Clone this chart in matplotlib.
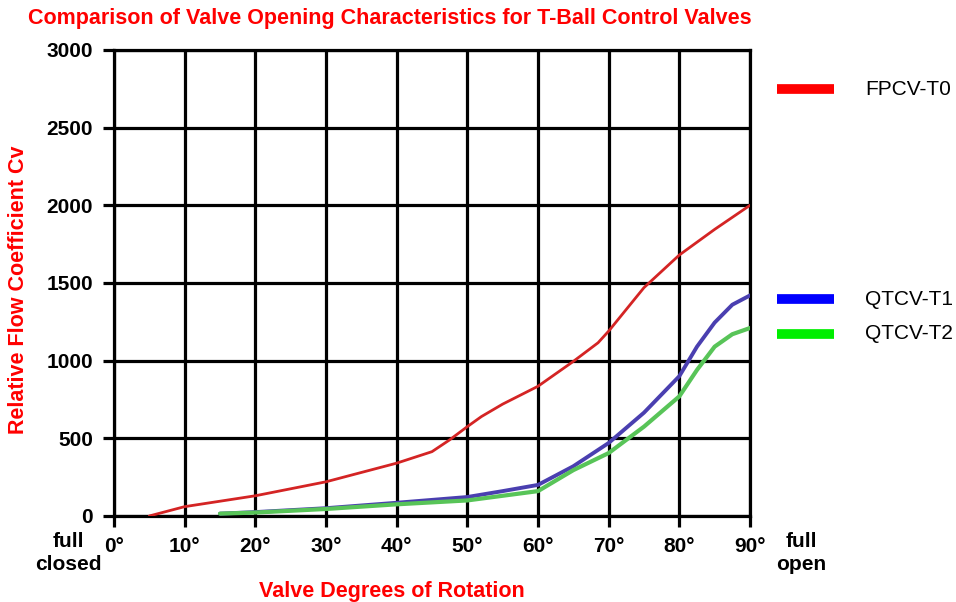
import matplotlib.pyplot as plt
from matplotlib.lines import Line2D
from matplotlib.transforms import ScaledTranslation

plt.rcParams["font.family"] = ["Liberation Sans", "DejaVu Sans"]

# values
deg_t0 = [5, 10, 20, 30, 40, 45, 47.5, 50, 52, 55, 60, 65, 68.5, 70, 72.5, 75, 80, 85, 90]
cv_t0 = [0, 60, 130, 220, 340, 414, 490, 575, 640, 720, 835, 995, 1115, 1190, 1330, 1470, 1680, 1845, 2000]

deg_t1 = [15, 20, 30, 40, 50, 55, 60, 65, 70, 75, 80, 82.5, 85, 87.5, 90]
cv_t1 = [15, 25, 50, 85, 122, 160, 200, 320, 470, 665, 900, 1090, 1245, 1360, 1420]

deg_t2 = [15, 20, 30, 40, 50, 55, 60, 65, 70, 75, 80, 82.5, 85, 87.5, 90]
cv_t2 = [15, 22, 45, 75, 100, 130, 160, 295, 405, 575, 770, 940, 1090, 1170, 1210]

x_ticks = [0, 10, 20, 30, 40, 50, 60, 70, 80, 90]
y_ticks = [0, 500, 1000, 1500, 2000, 2500, 3000]

series = [
    ("FPCV-T0", deg_t0, cv_t0, "#d42424", "#ff0000", 2.0, 0.852),
    ("QTCV-T1", deg_t1, cv_t1, "#4a3fb0", "#0000ff", 2.8, 0.503),
    ("QTCV-T2", deg_t2, cv_t2, "#58c458", "#00ee00", 3.0, 0.446),
]

fig = plt.figure(figsize=(9.56, 6.02), dpi=100)
ax = fig.add_axes([0.1192, 0.1429, 0.6653, 0.7741])

for name, xs, ys, color, leg_color, lw, leg_y in series:
    ax.plot(xs, ys, color=color, lw=lw, solid_capstyle="round", solid_joinstyle="round", zorder=3)
    fig.add_artist(Line2D([0.813, 0.872], [leg_y, leg_y], color=leg_color, lw=7,
                          solid_capstyle="butt"))
    fig.text(0.905, leg_y, name, fontsize=15, va="center", ha="left")

ax.set_xlim(0, 90)
ax.set_ylim(0, 3000)
ax.set_xticks(x_ticks)
ax.set_yticks(y_ticks)
ax.set_xticklabels([f"{d}°" for d in x_ticks], fontsize=15, fontweight="bold")
ax.set_yticklabels([str(v) for v in y_ticks], fontsize=15, fontweight="bold")
shift = ScaledTranslation(4 / 100, 0, fig.dpi_scale_trans)
for lbl in ax.get_xticklabels():
    lbl.set_transform(lbl.get_transform() + shift)
ax.grid(True, color="black", lw=2.3)
ax.set_axisbelow(True)
for sp in ax.spines.values():
    sp.set_linewidth(2.3)
ax.tick_params(direction="out", length=8, width=2.3, pad=7)

fig.text(0.408, 0.970, "Comparison of Valve Opening Characteristics for T-Ball Control Valves",
         color="red", fontsize=15.5, fontweight="bold", ha="center", va="center")
fig.text(0.019, 0.518, "Relative Flow Coefficient Cv", color="red", fontsize=15.5,
         fontweight="bold", rotation=90, ha="center", va="center")
fig.text(0.41, 0.017, "Valve Degrees of Rotation", color="red", fontsize=15.5,
         fontweight="bold", ha="center", va="center")
fig.text(0.072, 0.081, "full\nclosed", fontsize=15, fontweight="bold", ha="center",
         va="center", linespacing=1.3)
fig.text(0.838, 0.081, "full\nopen", fontsize=15, fontweight="bold", ha="center",
         va="center", linespacing=1.3)

fig.savefig("out.png", dpi=100)
